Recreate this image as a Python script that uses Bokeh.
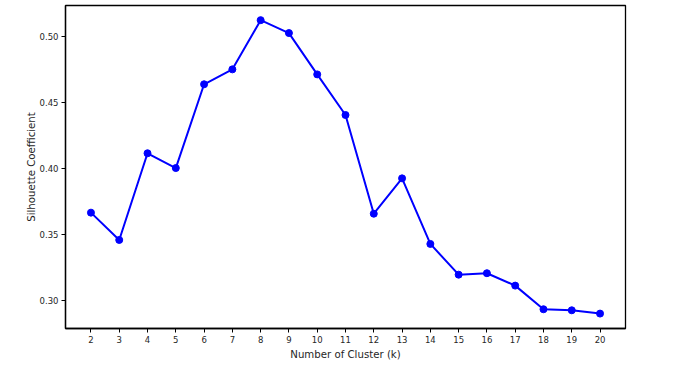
from bokeh.plotting import figure
from bokeh.models import FixedTicker, Range1d
from bokeh.embed import file_html
from bokeh.resources import INLINE

k_values = [2, 3, 4, 5, 6, 7, 8, 9, 10, 11, 12, 13, 14, 15, 16, 17, 18, 19, 20]
silhouette = [0.3667, 0.3460, 0.4117, 0.4005, 0.4640, 0.4753, 0.5126, 0.5028,
              0.4715, 0.4407, 0.3659, 0.3927, 0.3430, 0.3197, 0.3208, 0.3114,
              0.2935, 0.2927, 0.2902]
y_ticks = [0.30, 0.35, 0.40, 0.45, 0.50]
y_tick_labels = ["0.30", "0.35", "0.40", "0.45", "0.50"]
x_label = "Number of Cluster (k)"
y_label = "Silhouette Coefficient"

p = figure(width=679, height=362, output_backend="svg", toolbar_location=None,
           x_range=Range1d(1.1, 20.9), y_range=Range1d(0.2789, 0.5237))
p.min_border_left = 65
p.min_border_right = 54
p.min_border_top = 5
p.min_border_bottom = 34

p.line(k_values, silhouette, line_color="#0000ff", line_width=2)
p.scatter(k_values, silhouette, size=7, fill_color="#0000ff", line_color="#0000ff")

p.grid.visible = False
p.outline_line_color = "black"
p.outline_line_width = 1.3
p.outline_line_alpha = 1.0

p.xaxis.ticker = FixedTicker(ticks=k_values)
p.yaxis.ticker = FixedTicker(ticks=y_ticks)
p.yaxis.major_label_overrides = {t: l for t, l in zip(y_ticks, y_tick_labels)}
p.xaxis.axis_label = x_label
p.yaxis.axis_label = y_label

for ax in (p.xaxis, p.yaxis):
    ax.axis_line_color = "black"
    ax.axis_line_width = 1.3
    ax.major_tick_line_color = "black"
    ax.major_tick_out = 4
    ax.major_tick_in = 0
    ax.minor_tick_line_color = None
    ax.major_label_text_font = "DejaVu Sans"
    ax.major_label_text_font_size = "8.5px"
    ax.major_label_text_color = "#262626"
    ax.axis_label_text_font = "DejaVu Sans"
    ax.axis_label_text_font_size = "10.2px"
    ax.axis_label_text_font_style = "normal"
    ax.axis_label_text_color = "#262626"
    ax.major_label_standoff = 3
    ax.axis_label_standoff = 3
p.yaxis.axis_label_standoff = 0

open("out.html", "w").write(file_html(p, INLINE))
